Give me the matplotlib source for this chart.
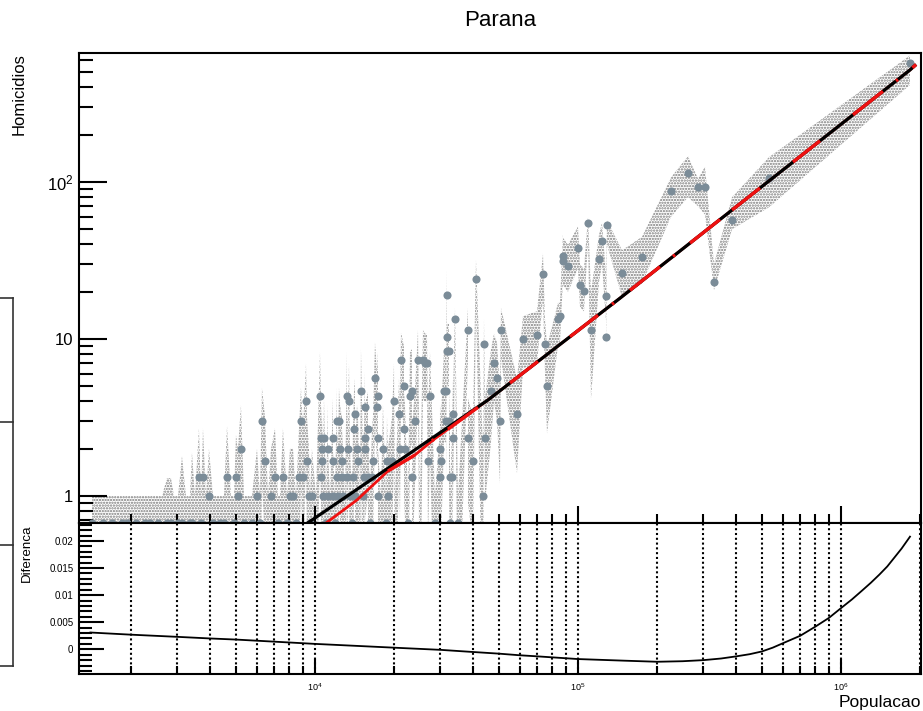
import numpy as np
import matplotlib
matplotlib.use('Agg')
import matplotlib.pyplot as plt
from matplotlib.lines import Line2D
from matplotlib.ticker import FixedLocator, NullFormatter

plt.rcParams['font.family'] = ['Liberation Sans', 'DejaVu Sans']
plt.rcParams['mathtext.fontset'] = 'custom'
plt.rcParams['mathtext.rm'] = 'Liberation Sans'
plt.rcParams['mathtext.it'] = 'Liberation Sans:italic'
plt.rcParams['hatch.linewidth'] = 1.1

# ---------------- data ----------------
pop = [1420, 1483, 1562, 1633, 1691, 1783, 1846, 1929, 1997, 2087,
       2161, 2258, 2358, 2421, 2529, 2620, 2737, 2835, 2910, 3014,
       3121, 3233, 3347, 3406, 3497, 3621, 3686, 3751, 3851, 3954,
       4094, 4203, 4353, 4508, 4629, 4793, 4921, 5008, 5096, 5232,
       5371, 5562, 5761, 6019, 6179, 6288, 6456, 6628, 6803, 7046,
       7234, 7361, 7557, 7827, 8035, 8249, 8469, 8694, 8847, 9003,
       9244, 9325, 9489, 9572, 9741, 10088, 10448, 10540, 10540, 10633,
       10633, 10726, 10821, 11012, 11206, 11206, 11404, 11707, 11707, 11707,
       11915, 12126, 12126, 12232, 12339, 12448, 12668, 12668, 12779, 13006,
       13236, 13236, 13352, 13469, 13587, 13828, 13948, 14072, 14196, 14196,
       14447, 14574, 14830, 14960, 15224, 15360, 15494, 15494, 15494, 15907,
       15907, 16187, 16474, 16618, 16912, 17212, 17362, 17362, 17362, 17823,
       18138, 18622, 18786, 18951, 19626, 19973, 20149, 20866, 21050, 21235,
       21801, 21801, 21993, 22578, 22976, 23383, 23383, 24005, 24644, 25078,
       25745, 26201, 26665, 26899, 27373, 28599, 29877, 29877, 30140, 30944,
       31490, 31490, 31768, 31768, 31768, 32327, 32327, 32611, 32611, 33188,
       33478, 33478, 34072, 34979, 38179, 38179, 39886, 40950, 43535, 43921,
       44307, 46695, 47941, 49218, 50523, 50968, 58637, 61793, 69859, 73620,
       74925, 76251, 83957, 85436, 87709, 87709, 91639, 100000, 101786, 105420,
       109176, 112080, 120210, 123410, 127814, 127814, 128942, 147027, 175167, 225790,
       262040, 286020, 304090, 329030, 385190, 532550, 1830000]

hom = [0.67, 0.33, 0.67, 0.33, 0.67, 0.33, 0.67, 0.67, 0.33, 0.67,
       0.33, 0.67, 0.67, 0.33, 0.67, 0.33, 0.67, 0.67, 0.33, 0.67,
       0.67, 0.33, 0.67, 0.67, 0.33, 1.33, 0.67, 1.33, 0.33, 1.0,
       0.67, 0.33, 0.67, 0.67, 1.33, 0.33, 0.67, 1.33, 1.0, 2.0,
       0.67, 0.33, 0.67, 1.0, 0.67, 3.0, 1.67, 0.33, 1.0, 1.33,
       0.67, 0.33, 1.33, 0.67, 1.0, 1.0, 0.67, 1.33, 3.0, 1.33,
       4.0, 1.67, 1.0, 0.67, 1.0, 0.33, 4.33, 2.33, 1.33, 2.0,
       1.67, 1.0, 2.33, 0.67, 2.0, 1.0, 0.33, 2.33, 1.67, 1.0,
       0.67, 3.0, 1.33, 1.0, 3.0, 2.0, 1.67, 1.33, 1.0, 0.33,
       4.33, 1.33, 2.0, 4.0, 1.0, 0.67, 1.33, 2.67, 3.33, 1.0,
       2.0, 1.67, 0.33, 4.67, 1.0, 1.33, 3.67, 2.33, 2.0, 2.67,
       1.33, 0.67, 1.33, 1.67, 5.67, 3.67, 4.33, 2.33, 1.0, 0.33,
       2.0, 0.67, 1.67, 1.0, 1.67, 4.0, 0.33, 3.33, 2.0, 7.33,
       5.0, 2.67, 2.0, 0.67, 4.33, 4.67, 1.33, 3.0, 7.33, 0.33,
       7.33, 7.0, 7.0, 1.67, 4.33, 0.67, 1.33, 2.0, 1.67, 4.67,
       4.67, 3.0, 19.0, 10.33, 8.33, 8.33, 3.0, 1.33, 0.67, 1.33,
       3.33, 2.33, 13.33, 0.67, 11.33, 2.33, 1.67, 24.0, 1.0, 9.33,
       2.33, 4.67, 7.0, 5.67, 3.0, 11.33, 3.33, 10.0, 10.67, 26.0,
       9.33, 5.0, 13.33, 14.0, 34.0, 31.33, 29.33, 38.0, 22.0, 20.33,
       55.0, 11.33, 32.33, 42.0, 18.67, 10.33, 53.0, 26.33, 33.33, 87.67,
       114.0, 93.0, 93.0, 23.0, 57.33, 106.0, 573.0]

hom_lo = [0.1, 0.1, 0.1, 0.1, 0.1, 0.1, 0.1, 0.1, 0.1, 0.1,
          0.1, 0.1, 0.1, 0.1, 0.1, 0.1, 0.1, 0.1, 0.1, 0.1,
          0.1, 0.1, 0.1, 0.1, 0.1, 0.3, 0.1, 0.3, 0.1, 0.1,
          0.1, 0.1, 0.1, 0.1, 0.3, 0.1, 0.1, 0.3, 0.1, 0.7,
          0.1, 0.1, 0.1, 0.1, 0.1, 1.2, 0.5, 0.1, 0.1, 0.3,
          0.1, 0.1, 0.3, 0.1, 0.1, 0.1, 0.1, 0.3, 1.2, 0.3,
          1.8, 0.5, 0.1, 0.1, 0.1, 0.1, 1.9, 0.9, 0.3, 0.7,
          0.5, 0.1, 0.9, 0.1, 0.7, 0.1, 0.1, 0.9, 0.5, 0.1,
          0.1, 1.2, 0.3, 0.1, 1.2, 0.7, 0.5, 0.3, 0.1, 0.1,
          1.9, 0.3, 0.7, 1.8, 0.1, 0.1, 0.3, 1.0, 1.4, 0.1,
          0.7, 0.5, 0.1, 2.2, 0.1, 0.3, 1.6, 0.9, 0.7, 1.0,
          0.3, 0.1, 0.3, 0.5, 3.0, 1.6, 1.9, 0.9, 0.1, 0.1,
          0.7, 0.1, 0.5, 0.1, 0.5, 1.8, 0.1, 1.4, 0.7, 4.1,
          2.5, 1.0, 0.7, 0.1, 1.9, 2.2, 0.3, 1.2, 4.1, 0.1,
          4.1, 4.0, 4.0, 0.5, 1.9, 0.1, 0.3, 0.7, 0.5, 2.2,
          2.2, 1.2, 12.0, 6.8, 5.0, 5.0, 1.2, 0.3, 0.1, 0.3,
          1.4, 0.9, 9.1, 0.1, 7.5, 0.9, 0.5, 16.0, 0.1, 6.0,
          0.9, 2.2, 4.0, 3.0, 1.2, 7.5, 1.4, 6.5, 7.0, 18.0,
          6.0, 2.5, 9.1, 9.5, 24.0, 22.0, 20.0, 28.0, 16.0, 15.0,
          42.0, 4.1, 23.0, 30.0, 13.0, 8.9, 40.0, 18.5, 22.6, 60.0,
          80.0, 70.0, 62.0, 20.5, 50.0, 69.0, 415.0]

hom_hi = [1, 1, 1, 1, 1, 1, 1, 1, 1, 1,
          1, 1, 1, 1, 1, 1, 1.3, 1.3, 1, 1,
          1.8, 1, 1, 1.9, 1, 2.7, 1, 2.7, 1, 2.0,
          1, 1, 1, 1, 2.8, 1, 1, 2.45, 2.0, 3.8,
          1, 1, 1, 2.0, 1, 4.9, 3.2, 1, 2.0, 2.7,
          1, 1, 2.7, 1, 2.0, 2.0, 1, 2.7, 4.9, 2.7,
          7.0, 3.2, 2.0, 1, 2.0, 1, 8.3, 4.2, 2.7, 3.8,
          3.2, 2.0, 4.2, 1, 3.8, 2.0, 1, 4.2, 3.2, 2.0,
          1, 4.9, 2.7, 2.0, 4.9, 3.8, 3.2, 2.7, 2.0, 1,
          8.3, 2.7, 3.8, 7.0, 2.0, 1, 2.7, 4.6, 5.6, 2.0,
          3.8, 3.2, 1, 8.6, 2.0, 2.7, 6.2, 4.2, 3.8, 4.6,
          2.7, 1, 2.7, 3.2, 9.5, 6.2, 8.3, 4.2, 2.0, 1,
          3.8, 1, 3.2, 2.0, 3.2, 7.0, 1, 5.6, 3.8, 11.0,
          9.0, 4.6, 3.8, 1, 8.3, 8.6, 2.7, 4.9, 11.4, 1,
          11.4, 10.8, 10.8, 3.2, 8.3, 1, 2.7, 3.8, 3.2, 8.6,
          8.6, 4.9, 27.5, 14.5, 12.5, 12.5, 4.9, 2.7, 1, 2.7,
          5.6, 4.2, 15.8, 1, 15.8, 4.2, 3.2, 32.0, 2.0, 13.5,
          4.2, 8.6, 10.8, 9.5, 4.9, 15.8, 5.6, 14.0, 15.0, 35.0,
          13.5, 9.0, 17.0, 17.0, 47.0, 44.0, 40.0, 52.0, 30.0, 28.0,
          60.0, 20.0, 46.0, 55.0, 26.0, 20.0, 57.0, 36.8, 44.7, 107.0,
          146.0, 105.0, 125.0, 30.0, 80.0, 144.0, 640.0]

# fitted model (black) and second model (red)
fit_x = [8770, 10000, 45500, 144500, 1830000, 1930000]
fit_y = [0.625, 0.724, 4.09, 18.2, 517.0, 560.0]
red_x = [10265, 14440, 18950, 24006, 28100, 45500, 144500, 1830000, 1930000]
red_y = [0.616, 0.943, 1.443, 1.825, 2.27, 4.09, 18.2, 517.0, 560.0]
red_segments = [(18950, 24006), (27857, 28350), (32046, 41673), (55146, 70470),
                (93254, 119170), (134700, 137090), (157690, 205060), (229770, 234000),
                (266660, 346760), (385200, 492190), (657000, 832200),
                (1111000, 1444000), (1619000, 1647000), (1870000, 1930000)]

# lower panel: difference curve
diff_x = [1400, 2000, 3000, 4000, 5000, 10000, 20000, 30000, 40000, 50000,
          60000, 70000, 100000, 150000, 200000, 250000, 300000, 350000, 400000, 450000,
          500000, 550000, 600000, 700000, 800000, 900000, 1000000, 1100000, 1200000,
          1300000, 1400000, 1500000, 1600000, 1700000, 1830000]
diff_y = [0.0031, 0.0027, 0.0023, 0.0020, 0.0018, 0.0010, 0.0003, -0.0001, -0.0005, -0.0008,
          -0.0011, -0.0013, -0.0018, -0.0021, -0.0023, -0.0022, -0.0020, -0.0017, -0.0013, -0.0009,
          -0.0004, 0.0003, 0.0011, 0.0025, 0.0042, 0.0058, 0.0076, 0.0092, 0.0108,
          0.0123, 0.0138, 0.0153, 0.0170, 0.0186, 0.0208]

title = 'Parana'
ylabel_top = 'Homicidios'
ylabel_bot = 'Diferenca'
xlabel = 'Populacao'

# ---------------- figure ----------------
W, H = 923, 711
fig = plt.figure(figsize=(W / 100, H / 100), dpi=100)


def fx(px):
    return px / W


def fy(py):
    return 1 - py / H


ax = fig.add_axes([fx(79), fy(523), fx(921) - fx(79), fy(53) - fy(523)])
axd = fig.add_axes([fx(79), fy(674), fx(921) - fx(79), fy(523) - fy(674)])

# band
order = np.argsort(np.array(pop, dtype=float), kind='stable')
px_s = np.array(pop, dtype=float)[order]
lo_s = np.array(hom_lo)[order]
hi_s = np.array(hom_hi)[order]
ax.fill_between(px_s, lo_s, hi_s, facecolor='none', edgecolor='#7a7a7a',
                hatch='......', linewidth=0, zorder=1)

ax.scatter(pop, hom, s=34, color='#7b8c98', linewidths=0, zorder=3)

ax.plot(red_x, red_y, color='#ee1111', lw=2.0, zorder=4, solid_capstyle='butt')
ax.plot(fit_x, fit_y, color='black', lw=2.3, zorder=5, solid_capstyle='butt')
lrx, lry = np.log10(red_x), np.log10(red_y)
for a, b in red_segments:
    la, lb = np.log10(a), np.log10(b)
    inner = [v for v in lrx if la < v < lb]
    xs = np.array([la] + inner + [lb])
    ys = np.interp(xs, lrx, lry)
    ax.plot(10 ** xs, 10 ** ys, color='#ee1111', lw=2.4, zorder=6, solid_capstyle='butt')

ax.set_xscale('log')
ax.set_yscale('log')
ax.set_xlim(1267, 2.015e6)
ax.set_ylim(0.673, 663)

minor_x = [k * 10 ** e for e in (3, 4, 5, 6) for k in range(2, 10)]
ax.xaxis.set_major_locator(FixedLocator([1e4, 1e5, 1e6]))
ax.xaxis.set_minor_locator(FixedLocator(minor_x))
ax.xaxis.set_major_formatter(NullFormatter())
ax.xaxis.set_minor_formatter(NullFormatter())
ax.set_yticks([1, 10, 100], labels=['1', '10', r'$\mathregular{10^{2}}$'])
ax.yaxis.set_minor_locator(FixedLocator([0.7, 0.8, 0.9] + [k for k in range(2, 10)]
                                        + [k * 10 for k in range(2, 10)] + [200, 300, 400, 500, 600]))
ax.yaxis.set_minor_formatter(NullFormatter())
ax.tick_params(axis='y', which='major', direction='in', length=20, width=1.5,
               labelsize=12, pad=4, right=False)
ax.tick_params(axis='y', which='minor', direction='in', length=10, width=1.5, right=False)
ax.tick_params(axis='x', which='major', direction='in', length=12, width=1.5,
               labelbottom=False, top=False)
ax.tick_params(axis='x', which='minor', direction='in', length=6.5, width=1.5, top=False)
for s in ax.spines.values():
    s.set_linewidth(1.5)

# lower panel
axd.plot(diff_x, diff_y, color='black', lw=1.3, zorder=3)
axd.set_xscale('log')
axd.set_xlim(1267, 2.015e6)
axd.set_ylim(-0.00456, 0.02332)
axd.xaxis.set_major_locator(FixedLocator([1e4, 1e5, 1e6]))
axd.xaxis.set_minor_locator(FixedLocator(minor_x))
axd.set_xticks([1e4, 1e5, 1e6], labels=[r'$\mathregular{10^{4}}$', r'$\mathregular{10^{5}}$',
                                         r'$\mathregular{10^{6}}$'])
axd.xaxis.set_minor_formatter(NullFormatter())
axd.set_yticks([0, 0.005, 0.01, 0.015, 0.02], labels=['0', '0.005', '0.01', '0.015', '0.02'])
axd.yaxis.set_minor_locator(FixedLocator(np.arange(-0.004, 0.0235, 0.001)))
axd.yaxis.set_minor_formatter(NullFormatter())
axd.tick_params(axis='y', which='major', direction='in', length=18, width=1.5,
                labelsize=7, pad=4, right=False)
axd.tick_params(axis='y', which='minor', direction='in', length=9.5, width=1.5, right=False)
axd.tick_params(axis='x', which='major', direction='in', length=11, width=1.5,
                labelsize=6.5, pad=5, top=False)
axd.tick_params(axis='x', which='minor', direction='in', length=6, width=1.5, top=False)
axd.grid(True, which='both', axis='x', color='black', linestyle=(0, (1, 1.3)), linewidth=1.5)
axd.set_axisbelow(True)
for s in axd.spines.values():
    s.set_linewidth(1.5)

# texts
fig.text(fx(500), fy(20), title, ha='center', va='center', fontsize=16)
fig.text(fx(19), fy(53), ylabel_top, rotation=90, ha='center', va='top', fontsize=12)
fig.text(fx(27), fy(525), ylabel_bot, rotation=90, ha='center', va='top', fontsize=9.6)
fig.text(fx(921), fy(702), xlabel, ha='right', va='center', fontsize=12.5)

# fragment of a neighbouring pad at the left edge
frag = '#333333'
for py in (298, 422, 545, 666):
    fig.add_artist(Line2D([fx(0), fx(13)], [fy(py), fy(py)], color=frag, lw=1.2))
fig.add_artist(Line2D([fx(13), fx(13)], [fy(298), fy(666)], color=frag, lw=1.2))

fig.savefig('out.png', dpi=100)
